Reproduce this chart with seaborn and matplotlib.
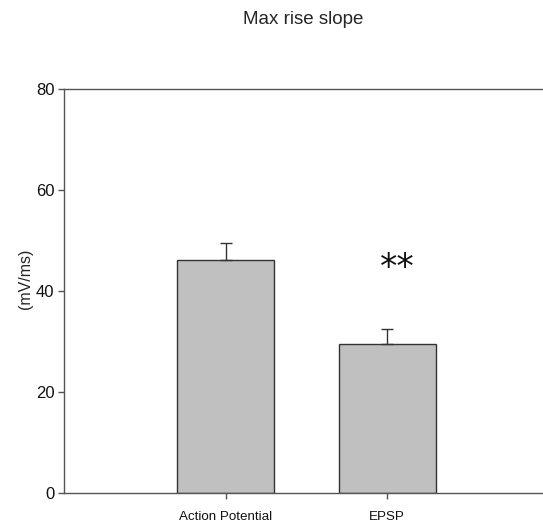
import matplotlib
matplotlib.use("Agg")
import matplotlib.pyplot as plt
import seaborn as sns
import pandas as pd

categories = ["Action Potential", "EPSP"]
means = [46.2, 29.6]
sem = [3.3, 2.9]
significance = ["", "**"]
yticks = [0, 20, 40, 60, 80]

sns.set_style("white")
plt.rcParams["font.family"] = ["Liberation Sans", "DejaVu Sans"]

df = pd.DataFrame({"group": categories, "value": means})

fig = plt.figure(figsize=(5.43, 5.27), dpi=100)
ax = fig.add_axes([0.118, 0.0645, 0.882, 0.7666])

sns.barplot(data=df, x="group", y="value", ax=ax, color="#c0c0c0",
            saturation=1, width=0.6, edgecolor="#333333", linewidth=1.0,
            errorbar=None)
ax.errorbar(range(len(categories)), means, yerr=[[0] * len(sem), sem],
            fmt="none", ecolor="#333333", elinewidth=1.0, capsize=4,
            capthick=1.0)

for i, (m, s, star) in enumerate(zip(means, sem, significance)):
    if star:
        ax.text(i + 0.06, 44.6, star, ha="center", va="center",
                fontsize=25, family="DejaVu Sans", color="#111111")

ax.set_xlim(-1.0, 1.965)
ax.set_ylim(0, 80)
ax.set_yticks(yticks)
ax.set_xlabel("")
ax.set_ylabel("(mV/ms)", fontsize=11.5)
ax.yaxis.set_label_coords(-0.065, 0.53)
ax.set_title("Max rise slope", fontsize=13.5, pad=47)

for side in ["left", "top", "bottom"]:
    ax.spines[side].set_visible(True)
    ax.spines[side].set_color("#555555")
    ax.spines[side].set_linewidth(1.0)
ax.spines["right"].set_visible(False)

ax.tick_params(axis="both", direction="out", length=4, width=1,
               color="#555555", labelcolor="#111111")
ax.tick_params(axis="y", labelsize=12, left=True, pad=3)
ax.tick_params(axis="x", labelsize=9.6, bottom=True, pad=9)

fig.savefig("out.png", dpi=100)
